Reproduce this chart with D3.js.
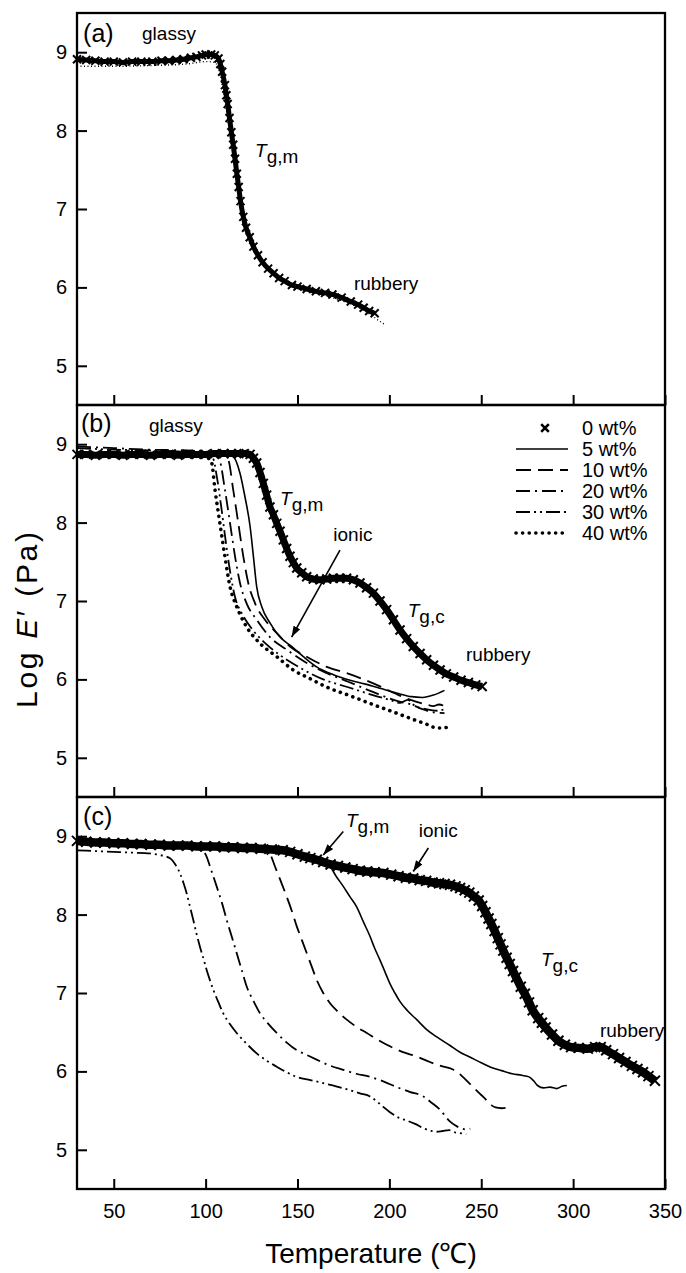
<!DOCTYPE html>
<html>
<head>
<meta charset="utf-8">
<script src="https://cdn.jsdelivr.net/npm/d3@7"></script>
<style>
  body { margin: 0; background: #fff; }
  svg { display: block; font-family: "Liberation Sans", Arial, sans-serif; }
</style>
</head>
<body>
<div id="chart"></div>
<script>
// ---- data: [temperature (°C), log E' (Pa)] ----
const tempTicks = [50, 100, 150, 200, 250, 300, 350];
const logTicks = [5, 6, 7, 8, 9];
const legendLabels = ["0 wt%", "5 wt%", "10 wt%", "20 wt%", "30 wt%", "40 wt%"];

// panel (a)
const a0 = [[30,8.91],[35,8.90],[40,8.89],[45,8.88],[50,8.88],[55,8.87],[60,8.88],[65,8.88],[71,8.88],[76,8.89],[80,8.89],[84,8.90],[88,8.91],[92,8.93],[95,8.94],[98,8.96],[100,8.97],[103,8.97],[105,8.96],[107,8.92],[108,8.85],[109,8.75],[110.5,8.58],[111.3,8.45],[112,8.34],[113,8.16],[114,7.98],[115,7.82],[116,7.64],[117,7.45],[118,7.28],[119,7.10],[120.5,6.90],[122,6.76],[124,6.64],[126,6.52],[128.5,6.41],[131,6.32],[134,6.24],[137,6.18],[140,6.12],[143,6.08],[147,6.03],[150,6.01],[155,5.98],[160,5.95],[165,5.93],[169,5.91],[174,5.87],[179,5.82],[183,5.78],[186,5.74],[189,5.70],[192,5.67]];
const a1 = [[30,8.82],[50,8.82],[70,8.83],[90,8.85],[100,8.88],[105,8.87],[108,8.70],[110,8.45],[112,8.15],[114,7.85],[116,7.50],[118,7.15],[120,6.90],[123,6.68],[127,6.48],[131,6.33],[137,6.17],[143,6.06],[150,5.99],[160,5.93],[170,5.86],[180,5.78],[188,5.68],[194,5.58],[198,5.52]];

// panel (b)
const b0 = [[30,8.87],[35,8.87],[40,8.86],[45,8.87],[50,8.87],[55,8.86],[60,8.87],[65,8.87],[70,8.86],[75,8.87],[80,8.87],[85,8.86],[90,8.87],[95,8.87],[100,8.87],[105,8.88],[110,8.88],[114,8.88],[118,8.88],[121,8.88],[124.2,8.87],[126,8.82],[127.8,8.76],[129.6,8.64],[131.4,8.50],[133.2,8.35],[135,8.20],[136.9,8.10],[138.7,7.99],[140.5,7.89],[142.3,7.78],[144.1,7.67],[145.9,7.57],[147.7,7.49],[149.6,7.42],[152.3,7.36],[155,7.31],[158.6,7.28],[162.2,7.27],[165.9,7.28],[169.5,7.29],[173.1,7.29],[176.7,7.29],[180.4,7.27],[184,7.23],[187.6,7.17],[191.3,7.10],[194.9,7.00],[198.5,6.89],[202.2,6.76],[205.8,6.63],[209.4,6.52],[213,6.42],[216.7,6.33],[220.3,6.25],[224,6.18],[227.6,6.12],[231,6.07],[235,6.03],[239,5.99],[243,5.96],[247,5.93],[250.5,5.91]];
const b5 = [[30,8.88],[60,8.87],[90,8.87],[110,8.87],[115,8.84],[118.7,8.63],[121.4,8.33],[124.2,7.95],[126,7.57],[127.8,7.18],[130.5,6.93],[135,6.72],[140.5,6.54],[146.8,6.42],[153.2,6.29],[160.4,6.16],[169.5,6.06],[178.6,5.99],[187,5.94],[196,5.88],[205,5.82],[212,5.78],[218,5.77],[224,5.80],[230,5.86]];
const b10 = [[30,8.87],[60,8.86],[90,8.86],[108,8.86],[112.3,8.80],[115,8.42],[117.8,7.99],[120.5,7.57],[123.2,7.23],[126.9,6.97],[132.3,6.76],[138.7,6.59],[145.9,6.42],[155,6.29],[165.9,6.16],[176.7,6.08],[186,6.00],[196,5.90],[205,5.80],[214,5.72],[220,5.68],[224,5.66],[227,5.68],[230,5.66]];
const b20 = [[30,8.97],[50,8.95],[70,8.93],[90,8.92],[102,8.88],[106,8.84],[107.8,8.78],[110.5,8.42],[113.3,7.99],[116,7.57],[118.7,7.23],[122.3,6.97],[127.8,6.76],[135,6.54],[144.1,6.38],[155,6.21],[165.9,6.08],[177.6,5.97],[191,5.84],[205,5.72],[212,5.68],[218,5.62],[224,5.58],[230,5.57]];
const b30 = [[30,8.95],[50,8.93],[70,8.92],[90,8.90],[100,8.87],[104,8.82],[106,8.60],[108.5,8.20],[111,7.75],[113.5,7.35],[116,7.05],[120,6.83],[126,6.62],[133,6.45],[141,6.30],[152,6.14],[164,6.00],[177.6,5.90],[191,5.80],[200,5.74],[206,5.70],[210,5.74],[214,5.66],[220,5.62],[226,5.60],[230,5.62]];
const b40 = [[30,8.85],[50,8.85],[70,8.85],[90,8.85],[100,8.84],[103.3,8.76],[105.1,8.42],[107.8,7.99],[110.5,7.57],[113.3,7.18],[116.9,6.93],[122.3,6.67],[129.6,6.46],[138.7,6.29],[147.7,6.12],[156.8,6.01],[166,5.90],[177.6,5.80],[191,5.68],[205,5.56],[214,5.48],[220,5.43],[224,5.39],[228,5.38],[232,5.39]];

// panel (c)
const c0 = [[30,8.94],[35,8.93],[40,8.92],[45,8.92],[50,8.91],[55,8.91],[60,8.90],[65,8.90],[70,8.89],[75,8.89],[80,8.88],[85,8.88],[90,8.88],[95,8.87],[100,8.87],[105,8.87],[110,8.86],[115,8.86],[120,8.85],[125,8.85],[130,8.84],[136,8.83],[142,8.82],[146,8.80],[150,8.77],[154,8.74],[157,8.72],[160.5,8.70],[164,8.67],[168,8.64],[172,8.62],[176,8.60],[180,8.58],[184,8.56],[188,8.55],[192,8.54],[196.7,8.53],[201,8.51],[205,8.49],[209,8.47],[213,8.46],[216.5,8.44],[220,8.43],[223.5,8.41],[227,8.40],[230,8.39],[233,8.38],[236,8.36],[238.5,8.34],[241,8.31],[243.5,8.28],[246,8.23],[248.6,8.18],[250.5,8.11],[252.3,8.03],[254,7.95],[255.5,7.88],[257.3,7.79],[259,7.70],[260.5,7.62],[262,7.54],[263.8,7.45],[265.5,7.37],[267.3,7.28],[269,7.20],[271.5,7.08],[273.7,6.99],[276,6.88],[278,6.78],[281,6.68],[283,6.62],[285,6.56],[288.5,6.47],[292,6.39],[295.5,6.34],[298.9,6.31],[303,6.30],[308,6.29],[312,6.31],[315,6.31],[318,6.27],[321.7,6.22],[325,6.17],[328.5,6.12],[332,6.07],[335,6.03],[338,5.99],[341,5.94],[344.5,5.88]];
const c5 = [[30,8.92],[70,8.88],[110,8.85],[140,8.81],[160,8.68],[167.7,8.61],[171,8.49],[174.9,8.36],[178.5,8.23],[182.2,8.10],[186,7.90],[189.5,7.72],[192,7.57],[194.9,7.42],[197.6,7.27],[200.3,7.12],[203,7.00],[205.8,6.89],[210,6.77],[214.9,6.66],[220,6.54],[225.8,6.44],[233,6.33],[238,6.25],[244,6.18],[250,6.11],[255.5,6.05],[261,6.01],[266.9,5.97],[272,5.95],[276,5.93],[278.5,5.88],[280.6,5.82],[284,5.79],[287.4,5.80],[291,5.78],[294,5.81],[296.6,5.82]];
const c10 = [[30,8.92],[70,8.88],[110,8.85],[132,8.83],[135.5,8.75],[137.8,8.61],[141,8.42],[144.1,8.23],[147,8.04],[149.6,7.85],[152.3,7.68],[155,7.51],[157.7,7.34],[160.4,7.17],[164,7.00],[167.7,6.87],[172,6.76],[176.8,6.66],[182,6.57],[187.7,6.49],[194,6.40],[200.3,6.32],[207,6.25],[214.9,6.19],[222,6.12],[229.4,6.06],[234,6.03],[237,5.99],[239.5,5.94],[243,5.86],[246,5.79],[249.5,5.71],[253,5.63],[255.5,5.57],[257.8,5.54],[261,5.53],[264.6,5.54]];
const c20 = [[30,8.92],[70,8.88],[95,8.86],[99.7,8.78],[103,8.57],[106,8.36],[109,8.14],[111.5,7.93],[114.2,7.72],[116.9,7.51],[119.7,7.29],[122.4,7.08],[126,6.90],[129.6,6.74],[134,6.61],[138.7,6.49],[144,6.37],[149.6,6.27],[155,6.21],[160.4,6.15],[167,6.08],[174.9,6.02],[182,5.97],[189.5,5.93],[197,5.87],[204,5.80],[211,5.74],[218.5,5.68],[223,5.60],[227.6,5.51],[232.6,5.37],[236,5.31],[239.5,5.27],[242,5.26],[244,5.27]];
const c30 = [[30,8.82],[40,8.81],[50,8.80],[60,8.79],[69.7,8.78],[75,8.76],[80.6,8.72],[83.5,8.64],[86,8.53],[88,8.40],[89.7,8.27],[91.5,8.10],[93.3,7.93],[95,7.76],[96.9,7.59],[98.8,7.44],[100.6,7.29],[102.4,7.16],[104.2,7.04],[107,6.88],[109.6,6.74],[113,6.61],[116.9,6.49],[122,6.36],[127.8,6.23],[133,6.14],[138.7,6.06],[144,5.99],[149.6,5.93],[157,5.89],[164,5.85],[171,5.81],[178.6,5.76],[184,5.72],[189.5,5.68],[193,5.62],[196.5,5.55],[200.3,5.48],[205,5.41],[209.8,5.37],[214,5.33],[219,5.27],[223,5.24],[225.8,5.23],[229,5.24],[232.6,5.25],[236,5.22],[239,5.21],[241.8,5.20]];

// annotations: [panel, temp, logE, text, subscript]
const notes = [
  [0, 33.3, 9.13, "(a)", null], [0, 65.4, 9.16, "glassy", null],
  [0, 126.9, 7.66, "T", "g,m"], [0, 180.7, 5.97, "rubbery", null],
  [1, 32.2, 9.16, "(b)", null], [1, 69.2, 9.16, "glassy", null],
  [1, 140.5, 8.22, "T", "g,m"], [1, 169.5, 7.76, "ionic", null],
  [1, 210, 6.8, "T", "g,c"], [1, 241.7, 6.23, "rubbery", null],
  [2, 33.3, 9.14, "(c)", null], [2, 176.4, 9.12, "T", "g,m"],
  [2, 216, 8.99, "ionic", null], [2, 282.5, 7.34, "T", "g,c"],
  [2, 314.6, 6.44, "rubbery", null]
];
// arrows: [panel, fromT, fromE, toT, toE]
const arrows = [
  [1, 173.1, 7.65, 146.8, 6.54],
  [2, 174.9, 9.06, 164, 8.76],
  [2, 221.2, 8.85, 213, 8.55]
];

// ---- layout ----
const W = 686, H = 1273;
const left = 77, right = 665, panelH = 392;
const tops = [13, 405, 797];
const font = 20;

const svg = d3.select("#chart").append("svg")
  .attr("width", W).attr("height", H);

svg.append("defs").append("marker")
  .attr("id", "arrow")
  .attr("viewBox", "0 0 10 7")
  .attr("refX", 10).attr("refY", 3.5)
  .attr("markerUnits", "userSpaceOnUse")
  .attr("markerWidth", 11).attr("markerHeight", 8)
  .attr("orient", "auto")
  .append("path").attr("d", "M0,0L10,3.5L0,7Z").attr("fill", "#000");

const x = d3.scaleLinear().domain([30, 350]).range([left, right]);
const ys = tops.map(t => d3.scaleLinear().domain([4.5, 9.5]).range([t + panelH, t]));

const styles = {
  5: { dash: null, w: 1.6 },
  10: { dash: "15,7", w: 1.8 },
  20: { dash: "14,5,2,5", w: 1.8 },
  30: { dash: "14,4,2,4,2,4", w: 1.8 },
  40: { dash: "0.1,6.5", w: 3.6, cap: "round" },
  fine: { dash: "1,2.5", w: 1.4 }
};

const xMark = s => `M${-s},${-s}L${s},${s}M${-s},${s}L${s},${-s}`;

function drawLine(g, y, data, st) {
  const line = d3.line().x(d => x(d[0])).y(d => y(d[1])).curve(d3.curveMonotoneX);
  g.append("path").datum(data)
    .attr("d", line)
    .attr("fill", "none")
    .attr("stroke", "#000")
    .attr("stroke-width", st.w)
    .attr("stroke-dasharray", st.dash)
    .attr("stroke-linecap", st.cap || "butt");
}

function drawCross(g, y, data, band, size) {
  const line = d3.line().x(d => x(d[0])).y(d => y(d[1])).curve(d3.curveMonotoneX);
  g.append("path").datum(data)
    .attr("d", line)
    .attr("fill", "none")
    .attr("stroke", "#000")
    .attr("stroke-width", band)
    .attr("stroke-linejoin", "round");
  g.selectAll(null).data(data).enter().append("path")
    .attr("transform", d => `translate(${x(d[0])},${y(d[1])})`)
    .attr("d", xMark(size))
    .attr("stroke", "#000")
    .attr("stroke-width", 2);
}

const panels = [
  { lines: [[a1, "fine"]], cross: a0, band: 5, size: 4 },
  { lines: [[b40, 40], [b30, 30], [b20, 20], [b10, 10], [b5, 5]], cross: b0, band: 7, size: 4.5 },
  { lines: [[c30, 30], [c20, 20], [c10, 10], [c5, 5]], cross: c0, band: 8.5, size: 5 }
];

panels.forEach((p, i) => {
  const y = ys[i];
  const g = svg.append("g");

  p.lines.forEach(([data, key]) => drawLine(g, y, data, styles[key]));
  drawCross(g, y, p.cross, p.band, p.size);

  // axes: inward ticks
  const ax = svg.append("g")
    .attr("transform", `translate(${left},0)`)
    .call(d3.axisLeft(y).tickValues(logTicks).tickFormat(d3.format("d"))
      .tickSize(-10).tickPadding(10));
  const bx = svg.append("g")
    .attr("transform", `translate(0,${tops[i] + panelH})`)
    .call(d3.axisBottom(x).tickValues(tempTicks).tickFormat(d3.format("d"))
      .tickSize(-10).tickPadding(15));
  if (i < 2) bx.selectAll("text").remove();
  [ax, bx].forEach(a => {
    a.select(".domain").remove();
    a.selectAll("line").attr("stroke", "#000").attr("stroke-width", 2);
    a.selectAll("text").attr("font-size", font).attr("fill", "#000")
      .attr("font-family", "Liberation Sans, Arial, sans-serif");
  });

  svg.append("rect")
    .attr("x", left).attr("y", tops[i])
    .attr("width", right - left).attr("height", panelH)
    .attr("fill", "none").attr("stroke", "#000").attr("stroke-width", 2.3);
});

// annotations
notes.forEach(([pi, t, e, txt, sub]) => {
  const isPanel = txt.startsWith("(");
  const tx = svg.append("text")
    .attr("x", x(t)).attr("y", ys[pi](e))
    .attr("font-size", isPanel ? 25 : 19);
  if (sub) {
    tx.append("tspan").attr("font-style", "italic").text(txt);
    tx.append("tspan").attr("dy", 6).text(sub);
  } else {
    tx.text(txt);
  }
});

arrows.forEach(([pi, t0, e0, t1, e1]) => {
  svg.append("line")
    .attr("x1", x(t0)).attr("y1", ys[pi](e0))
    .attr("x2", x(t1)).attr("y2", ys[pi](e1))
    .attr("stroke", "#000").attr("stroke-width", 1.6)
    .attr("marker-end", "url(#arrow)");
});

// legend in panel (b)
const lg = svg.append("g").attr("transform", `translate(516,${tops[1] + 23})`);
const legendKeys = [0, 5, 10, 20, 30, 40];
legendKeys.forEach((k, i) => {
  const row = lg.append("g").attr("transform", `translate(0,${i * 21})`);
  if (k === 0) {
    row.append("path").attr("transform", "translate(29,0)")
      .attr("d", xMark(3.8)).attr("stroke", "#000").attr("stroke-width", 2.6);
  } else {
    const st = styles[k];
    row.append("line").attr("x1", 0).attr("x2", 52)
      .attr("stroke", "#000").attr("stroke-width", st.w)
      .attr("stroke-dasharray", st.dash)
      .attr("stroke-linecap", st.cap || "butt");
  }
  row.append("text").attr("x", 66).attr("y", 7)
    .attr("font-size", font).text(legendLabels[i]);
});

// axis titles
const yl = svg.append("text")
  .attr("transform", "translate(37,620) rotate(-90)")
  .attr("text-anchor", "middle")
  .attr("font-size", 30)
  .attr("textLength", 176)
  .attr("lengthAdjust", "spacing");
yl.append("tspan").text("Log ");
yl.append("tspan").attr("font-style", "italic").text("E");
yl.append("tspan").text("\u2032 (Pa)");

svg.append("text")
  .attr("x", (left + right) / 2).attr("y", 1263)
  .attr("text-anchor", "middle")
  .attr("font-size", 28)
  .text("Temperature (\u2103)");
</script>
</body>
</html>
